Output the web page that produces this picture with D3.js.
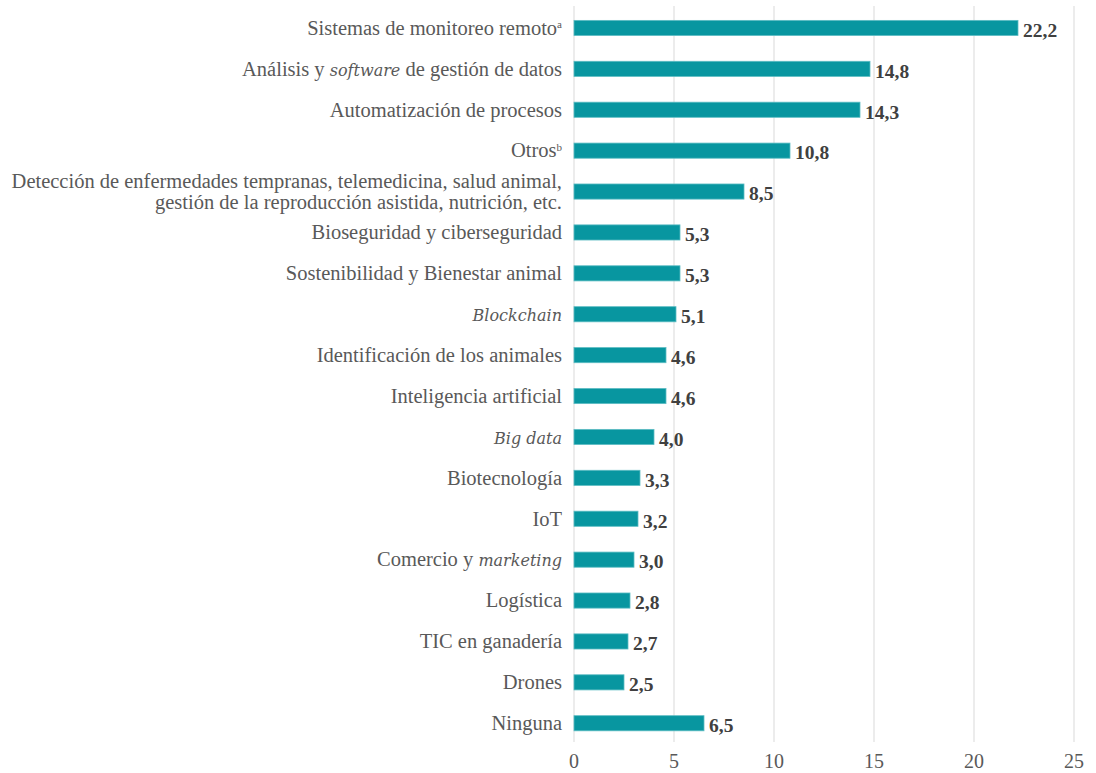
<!DOCTYPE html>
<html>
<head>
<meta charset="utf-8">
<script src="https://cdn.jsdelivr.net/npm/d3@7"></script>
<style>
  body { margin: 0; background: #fff; }
  svg { display: block; font-family: "Liberation Serif", "DejaVu Serif", serif; }
</style>
</head>
<body>
<svg id="chart" width="1096" height="773"></svg>
<script>
// categories, with *italic* and ^superscript markup; "|" splits lines
const categories = [
  "Sistemas de monitoreo remoto^a",
  "Análisis y *software* de gestión de datos",
  "Automatización de procesos",
  "Otros^b",
  "Detección de enfermedades tempranas, telemedicina, salud animal,|gestión de la reproducción asistida, nutrición, etc.",
  "Bioseguridad y ciberseguridad",
  "Sostenibilidad y Bienestar animal",
  "*Blockchain*",
  "Identificación de los animales",
  "Inteligencia artificial",
  "*Big data*",
  "Biotecnología",
  "IoT",
  "Comercio y *marketing*",
  "Logística",
  "TIC en ganadería",
  "Drones",
  "Ninguna"
];
const values = [22.2, 14.8, 14.3, 10.8, 8.5, 5.3, 5.3, 5.1, 4.6, 4.6, 4.0, 3.3, 3.2, 3.0, 2.8, 2.7, 2.5, 6.5];
const xTicks = [0, 5, 10, 15, 20, 25];

const width = 1096, height = 773;
const svg = d3.select("#chart");

const x = d3.scaleLinear().domain([0, 25]).range([574, 1074]);
const y = d3.scaleBand()
  .domain(d3.range(categories.length))
  .range([7.5, 743.7])
  .paddingInner(0.63)
  .paddingOuter(0.315);

// gridlines
svg.append("g")
  .selectAll("line")
  .data(xTicks)
  .join("line")
  .attr("x1", d => x(d)).attr("x2", d => x(d))
  .attr("y1", 6).attr("y2", 742)
  .attr("stroke", "#d9d9d9")
  .attr("stroke-width", 1);

// x axis tick labels
svg.append("g")
  .selectAll("text")
  .data(xTicks)
  .join("text")
  .attr("x", d => x(d))
  .attr("y", 768)
  .attr("text-anchor", "middle")
  .attr("font-size", 20)
  .attr("fill", "#595959")
  .text(d => d);

// bars
svg.append("g")
  .selectAll("rect")
  .data(values)
  .join("rect")
  .attr("x", x(0))
  .attr("y", (d, i) => y(i))
  .attr("width", d => x(d) - x(0))
  .attr("height", y.bandwidth())
  .attr("fill", "#0896a0")
  .attr("stroke", "#5cbcc3")
  .attr("stroke-width", 0.8);

// value labels
const fmt = d3.format(".1f");
svg.append("g")
  .selectAll("text")
  .data(values)
  .join("text")
  .attr("x", d => x(d) + 5)
  .attr("y", (d, i) => y(i) + y.bandwidth() / 2)
  .attr("dy", "0.45em")
  .attr("font-size", 19.5)
  .attr("font-weight", "bold")
  .attr("fill", "#404040")
  .text(d => fmt(d).replace(".", ","));

// category labels with italic / superscript segments
function addSegments(textSel, str) {
  const re = /(\*[^*]+\*|\^[a-z])/g;
  str.split(re).filter(s => s.length).forEach(s => {
    if (s.startsWith("*")) {
      textSel.append("tspan")
        .attr("font-family", "'DejaVu Serif', 'Liberation Serif', serif")
        .attr("font-size", 16)
        .attr("font-style", "italic")
        .text(s.slice(1, -1));
    } else if (s.startsWith("^")) {
      textSel.append("tspan").attr("font-size", 11).attr("dy", "-0.6em").text(s.slice(1));
    } else {
      textSel.append("tspan").text(s);
    }
  });
}

const labels = svg.append("g");
categories.forEach((c, i) => {
  const lines = c.split("|");
  const cy = y(i) + y.bandwidth() / 2;
  lines.forEach((ln, j) => {
    const t = labels.append("text")
      .attr("x", 562)
      .attr("y", cy + (j - (lines.length - 1) / 2) * 21)
      .attr("dy", "0.33em")
      .attr("text-anchor", "end")
      .attr("font-size", 20.5)
      .attr("fill", "#595959");
    addSegments(t, ln);
  });
});
</script>
</body>
</html>
